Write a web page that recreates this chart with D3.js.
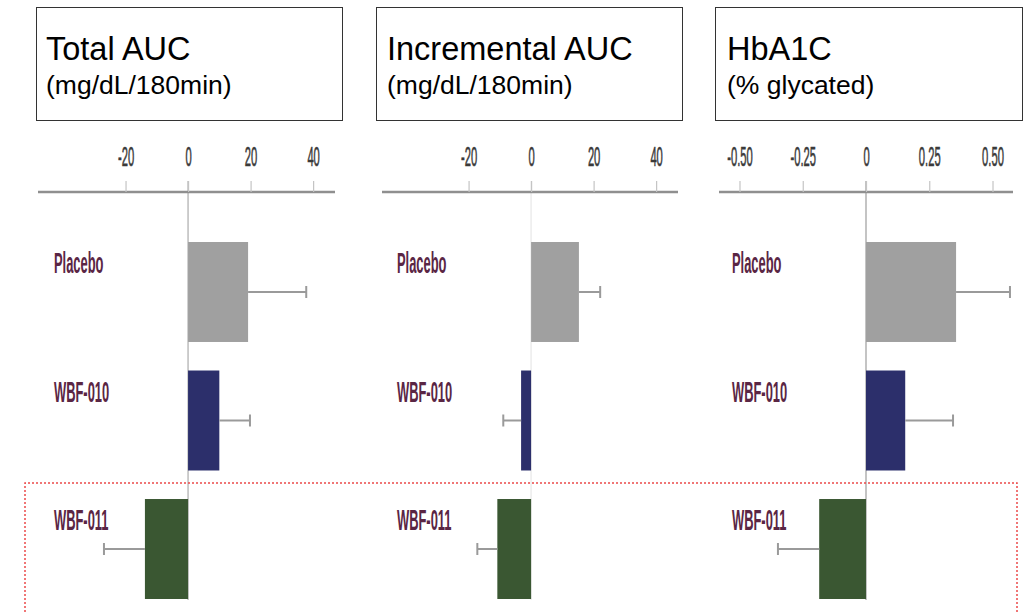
<!DOCTYPE html>
<html>
<head>
<meta charset="utf-8">
<script src="https://cdn.jsdelivr.net/npm/d3@7"></script>
<style>
  html, body { margin: 0; padding: 0; background: #fff; }
  svg { display: block; }
</style>
</head>
<body>
<svg id="chart" width="1028" height="612"></svg>
<script>
// ---- data ----
const categories = ["Placebo", "WBF-010", "WBF-011"];
const panelTitles = ["Total AUC", "Incremental AUC", "HbA1C"];
const panelUnits = ["(mg/dL/180min)", "(mg/dL/180min)", "(% glycated)"];
const totalAUC = [19.2, 10.0, -13.8];
const totalAUCErr = [18.6, 9.8, 13.1];
const incrementalAUC = [15.3, -3.2, -10.8];
const incrementalAUCErr = [6.8, 5.7, 6.4];
const hba1c = [0.356, 0.155, -0.185];
const hba1cErr = [0.213, 0.189, 0.163];
const aucTicks = [-20, 0, 20, 40];
const aucTickLabels = ["-20", "0", "20", "40"];
const hbaTicks = [-0.5, -0.25, 0, 0.25, 0.5];
const hbaTickLabels = ["-0.50", "-0.25", "0", "0.25", "0.50"];
const barColors = ["#a0a0a0", "#2c2f6b", "#3a5732"];

// ---- layout ----
const panels = [
  { values: totalAUC, errs: totalAUCErr, ticks: aucTicks, tickLabels: aucTickLabels,
    domain: [-48, 47], range: [38, 335], box: [36, 342], labelX: 54, textX: 46, zeroColor: "#bdbdbd" },
  { values: incrementalAUC, errs: incrementalAUCErr, ticks: aucTicks, tickLabels: aucTickLabels,
    domain: [-47.7, 47], range: [382, 678], box: [376, 682], labelX: 397, textX: 387, zeroColor: "#ececec" },
  { values: hba1c, errs: hba1cErr, ticks: hbaTicks, tickLabels: hbaTickLabels,
    domain: [-0.581, 0.581], range: [719, 1013], box: [715, 1022], labelX: 732, textX: 727, zeroColor: "#b0b0b0" }
];

const svg = d3.select("#chart");
const font = "'Liberation Sans', Arial, Helvetica, sans-serif";

const y = d3.scaleBand().domain(categories).range([242, 599]).paddingInner(0.222).paddingOuter(0);
const axisY = 192;

panels.forEach((p, pi) => {
  const x = d3.scaleLinear().domain(p.domain).range(p.range);
  const g = svg.append("g");

  // title box
  g.append("rect")
    .attr("x", p.box[0] + 0.5).attr("y", 7.5)
    .attr("width", p.box[1] - p.box[0]).attr("height", 113)
    .attr("fill", "#fff").attr("stroke", "#333").attr("stroke-width", 1);
  g.append("text")
    .attr("x", p.textX).attr("y", 60)
    .attr("font-family", font).attr("font-size", 32.5).attr("fill", "#000")
    .text(panelTitles[pi]);
  g.append("text")
    .attr("x", p.textX).attr("y", 94)
    .attr("font-family", font).attr("font-size", 26.5).attr("fill", "#000")
    .text(panelUnits[pi]);

  // zero line
  g.append("line")
    .attr("x1", x(0)).attr("x2", x(0))
    .attr("y1", axisY - 11).attr("y2", 600)
    .attr("stroke", p.zeroColor).attr("stroke-width", 1.5);

  // axis
  const axis = d3.axisTop(x).tickValues(p.ticks).tickSize(11).tickSizeOuter(0)
    .tickFormat((d, i) => p.tickLabels[i]);
  const ag = g.append("g").attr("transform", `translate(0,${axisY})`).call(axis);
  ag.attr("font-size", null).attr("font-family", null);
  ag.select(".domain").attr("stroke", "#8f8f8f").attr("stroke-width", 2.6)
    .attr("d", `M${p.range[0]},0H${p.range[1]}`);
  ag.selectAll(".tick line").attr("stroke", "#c4c4c4").attr("stroke-width", 1.2);
  ag.selectAll(".tick text")
    .attr("font-family", font).attr("font-size", "28px").attr("fill", "#3a3a3a")
    .attr("stroke", "#3a3a3a").attr("stroke-width", 0.6)
    .attr("y", 0).attr("dy", 0)
    .attr("transform", "translate(0,-26) scale(0.4,1)");

  // bars
  g.selectAll("rect.bar").data(categories).join("rect")
    .attr("class", "bar")
    .attr("x", (d, i) => Math.min(x(0), x(p.values[i])))
    .attr("width", (d, i) => Math.abs(x(p.values[i]) - x(0)))
    .attr("y", d => y(d))
    .attr("height", y.bandwidth())
    .attr("fill", (d, i) => barColors[i]);

  // error bars
  const eg = g.selectAll("g.err").data(categories).join("g").attr("class", "err");
  eg.append("line")
    .attr("x1", (d, i) => x(p.values[i]))
    .attr("x2", (d, i) => x(p.values[i] + Math.sign(p.values[i]) * p.errs[i]))
    .attr("y1", d => y(d) + y.bandwidth() / 2)
    .attr("y2", d => y(d) + y.bandwidth() / 2)
    .attr("stroke", "#9a9a9a").attr("stroke-width", 2);
  eg.append("line")
    .attr("x1", (d, i) => x(p.values[i] + Math.sign(p.values[i]) * p.errs[i]))
    .attr("x2", (d, i) => x(p.values[i] + Math.sign(p.values[i]) * p.errs[i]))
    .attr("y1", d => y(d) + y.bandwidth() / 2 - 6)
    .attr("y2", d => y(d) + y.bandwidth() / 2 + 6)
    .attr("stroke", "#9a9a9a").attr("stroke-width", 2);

  // category labels
  g.selectAll("text.cat").data(categories).join("text")
    .attr("class", "cat")
    .attr("font-family", font).attr("font-size", 30).attr("font-weight", "bold")
    .attr("fill", "#5a2644")
    .attr("transform", d => `translate(${p.labelX},${y(d) + 31}) scale(0.43,1)`)
    .text(d => d);
});

// highlight box (red dotted)
svg.append("path")
  .attr("d", "M25,620V483H1017V620")
  .attr("fill", "none").attr("stroke", "#ec4a4a").attr("stroke-width", 1.5)
  .attr("stroke-dasharray", "2,2");
</script>
</body>
</html>
